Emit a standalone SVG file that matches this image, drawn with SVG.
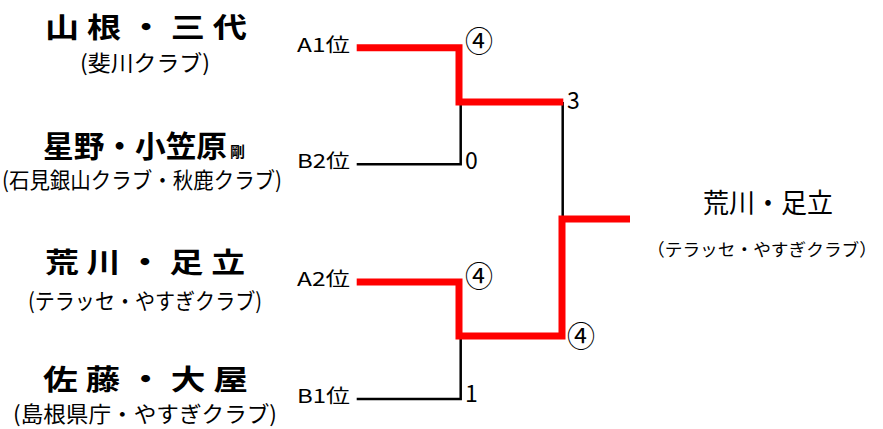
<svg xmlns="http://www.w3.org/2000/svg" width="883" height="429" viewBox="0 0 883 429">
<style>
text{font-family:"Noto Sans CJK JP","Noto Sans",sans-serif;fill:#000}
.nm{font-size:28px;font-weight:bold}
.cl{font-size:22px}
.lb{font-size:19px}
.sc{font-size:23px}
.ci{font-size:28px}
.red{fill:none;stroke:#ff0000;stroke-width:7;stroke-linejoin:miter}
.blk{fill:none;stroke:#000;stroke-width:2.5}
</style>
<rect width="883" height="429" fill="#fff"/>
<g id="connectors">
<polyline class="blk" points="356.7,164.3 460.7,164.3 460.7,105"/>
<polyline class="blk" points="562.7,102 562.7,216"/>
<polyline class="blk" points="356.7,399 460.7,399 460.7,339"/>
<polyline class="red" points="356.7,47.7 459,47.7 459,102 563.3,102"/>
<polyline class="red" points="630,219 562,219 562,336 459,336 459,282 356.7,282"/>
</g>
<g id="team-yamane">
<text class="nm" x="45" y="38" textLength="202" lengthAdjust="spacingAndGlyphs">山 根 ・ 三 代</text>
<text class="cl" x="80" y="71" textLength="130" lengthAdjust="spacingAndGlyphs">(斐川クラブ)</text>
<text class="lb" x="297" y="51.5" textLength="53" lengthAdjust="spacingAndGlyphs">A1位</text>
</g>
<g id="team-hoshino">
<text x="43" y="157" font-size="30" font-weight="bold" textLength="184" lengthAdjust="spacingAndGlyphs">星野・小笠原</text>
<text x="230" y="157" font-size="15" font-weight="bold">剛</text>
<text class="cl" x="2" y="188" textLength="280" lengthAdjust="spacingAndGlyphs">(石見銀山クラブ・秋鹿クラブ)</text>
<text class="lb" x="297" y="168" textLength="53" lengthAdjust="spacingAndGlyphs">B2位</text>
</g>
<g id="team-arakawa">
<text class="nm" x="45" y="273" textLength="200" lengthAdjust="spacingAndGlyphs">荒 川 ・ 足 立</text>
<text class="cl" x="28" y="309" textLength="234" lengthAdjust="spacingAndGlyphs">(テラッセ・やすぎクラブ)</text>
<text class="lb" x="297" y="286" textLength="53" lengthAdjust="spacingAndGlyphs">A2位</text>
</g>
<g id="team-sato">
<text class="nm" x="43" y="390" textLength="205" lengthAdjust="spacingAndGlyphs">佐 藤 ・ 大 屋</text>
<text class="cl" x="13" y="422" textLength="264" lengthAdjust="spacingAndGlyphs">(島根県庁・やすぎクラブ)</text>
<text class="lb" x="297" y="403" textLength="53" lengthAdjust="spacingAndGlyphs">B1位</text>
</g>
<g id="scores">
<text class="ci" x="465" y="52">④</text>
<text class="sc" x="567" y="109">3</text>
<text class="sc" x="465" y="169">0</text>
<text class="ci" x="465" y="286.5">④</text>
<text class="ci" x="567" y="346.5">④</text>
<text class="sc" x="465" y="402">1</text>
</g>
<g id="winner">
<text x="703" y="213" font-size="27" textLength="130" lengthAdjust="spacingAndGlyphs">荒川・足立</text>
<text x="647" y="256" font-size="17.5" textLength="230" lengthAdjust="spacingAndGlyphs">（テラッセ・やすぎクラブ）</text>
</g>
</svg>
